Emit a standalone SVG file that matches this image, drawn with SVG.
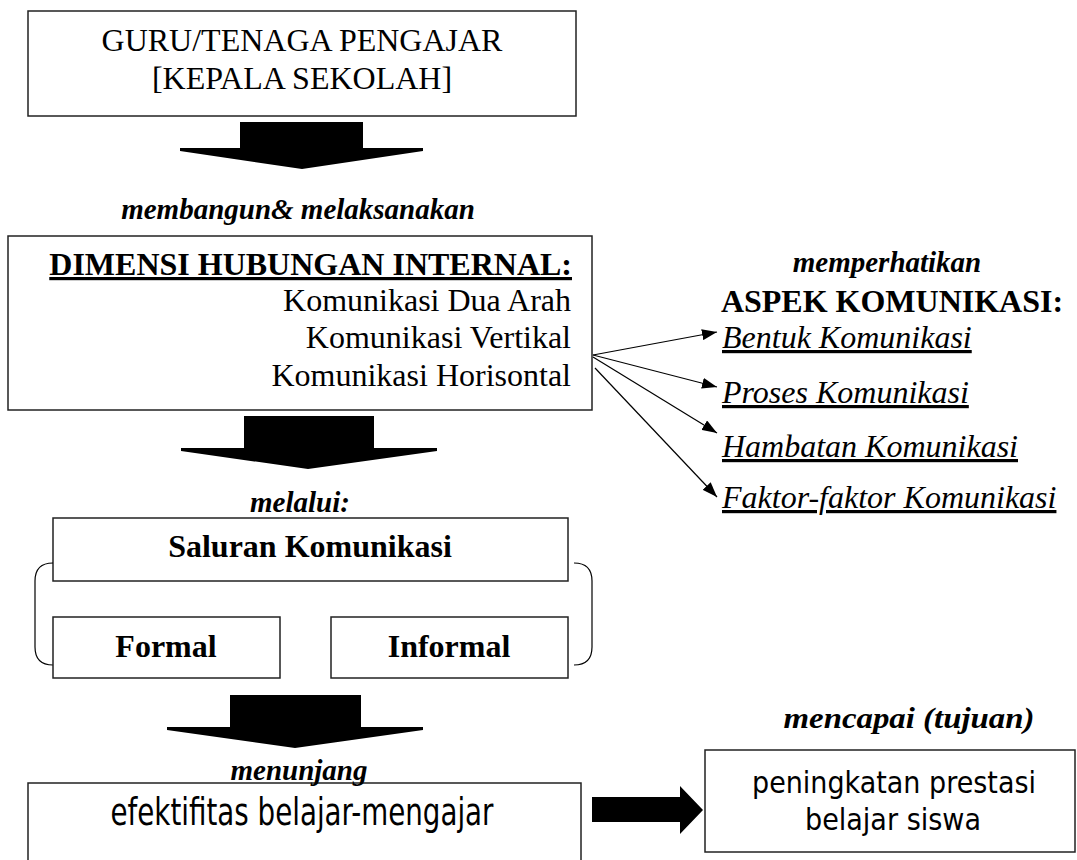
<svg xmlns="http://www.w3.org/2000/svg" width="1077" height="860" viewBox="0 0 1077 860">
<style>
.box{fill:#fff;stroke:#222;stroke-width:1.5}
.blk{fill:#000;stroke:none}
.serif{font-family:"Liberation Serif","Times New Roman",serif;fill:#000}
.sans{font-family:"DejaVu Sans","Liberation Sans",sans-serif;fill:#000}
.r32{font-size:32px}
.b32{font-size:32px;font-weight:bold}
.bi29{font-size:29px;font-weight:bold;font-style:italic}
.i32{font-size:32px;font-style:italic;text-decoration:underline}
.mid{text-anchor:middle}
.end{text-anchor:end}
.conn{stroke:#000;stroke-width:1.2;fill:none}
</style>
<defs>
<marker id="ah" viewBox="0 0 15 11" refX="15" refY="5.5" markerWidth="15" markerHeight="11" markerUnits="userSpaceOnUse" orient="auto">
<path d="M0,0 L15,5.5 L0,11 Z" fill="#000"/>
</marker>
</defs>
<rect x="0" y="0" width="1077" height="860" fill="#fff"/>

<g id="guru">
<rect class="box" x="28" y="11" width="548" height="105"/>
<text class="serif r32 mid" x="302" y="51">GURU/TENAGA PENGAJAR</text>
<text class="serif r32 mid" x="302" y="89">[KEPALA SEKOLAH]</text>
</g>

<g id="arrow1">
<polygon class="blk" points="240,122 363,122 363,148 423,148 423,151 302,169 180,151 180,148 240,148"/>
<text class="serif bi29 mid" x="298" y="219">membangun&amp; melaksanakan</text>
</g>

<g id="dimensi">
<rect class="box" x="8" y="236" width="584" height="174"/>
<text class="serif b32 end" x="572" y="275" text-decoration="underline">DIMENSI HUBUNGAN INTERNAL:</text>
<text class="serif r32 end" x="571" y="311">Komunikasi Dua Arah</text>
<text class="serif r32 end" x="571" y="348">Komunikasi Vertikal</text>
<text class="serif r32 end" x="571" y="386">Komunikasi Horisontal</text>
</g>

<g id="arrow2">
<polygon class="blk" points="244,416 374,416 374,448 437,448 437,451 308,469 181,451 181,448 244,448"/>
<text class="serif bi29 mid" x="300" y="512">melalui:</text>
</g>

<g id="aspek">
<text class="serif bi29 mid" x="887" y="272">memperhatikan</text>
<text class="serif b32 mid" x="892" y="312">ASPEK KOMUNIKASI:</text>
<text class="serif i32" x="722" y="348">Bentuk Komunikasi</text>
<text class="serif i32" x="722" y="403">Proses Komunikasi</text>
<text class="serif i32" x="722" y="457">Hambatan Komunikasi</text>
<text class="serif i32" x="722" y="508">Faktor-faktor Komunikasi</text>
</g>

<g id="saluran">
<rect class="box" x="53" y="518" width="515" height="63"/>
<text class="serif b32 mid" x="310" y="557">Saluran Komunikasi</text>
</g>
<g id="brackets">
<path class="conn" d="M53,563 Q35,563 35,581 L35,647 Q35,665 53,665"/>
<path class="conn" d="M574,563 Q592,563 592,581 L592,647 Q592,665 574,665"/>
</g>
<g id="formal">
<rect class="box" x="53" y="617" width="227" height="61"/>
<text class="serif b32 mid" x="166" y="657">Formal</text>
</g>
<g id="informal">
<rect class="box" x="331" y="617" width="237" height="61"/>
<text class="serif b32 mid" x="449" y="657">Informal</text>
</g>

<g id="arrow3">
<polygon class="blk" points="230,695 361,695 361,727 423,727 423,730 295,748 167,730 167,727 230,727"/>
</g>

<g id="efektifitas">
<rect class="box" x="28" y="783" width="553" height="100"/>
<text class="serif bi29 mid" x="299" y="780">menunjang</text>
<text class="sans mid" x="302" y="825" font-size="37" textLength="383" lengthAdjust="spacingAndGlyphs">efektifitas belajar-mengajar</text>
</g>

<g id="arrow4">
<polygon class="blk" points="592,797 680,797 680,786 703,810 680,834 680,822 592,822"/>
</g>

<g id="prestasi">
<text class="serif bi29 mid" x="909" y="728" textLength="251" lengthAdjust="spacingAndGlyphs">mencapai (tujuan)</text>
<rect class="box" x="705" y="750" width="370" height="102"/>
<text class="sans mid" x="894" y="793" font-size="31" textLength="284" lengthAdjust="spacingAndGlyphs">peningkatan prestasi</text>
<text class="sans mid" x="893" y="830" font-size="31" textLength="176" lengthAdjust="spacingAndGlyphs">belajar siswa</text>
</g>

<g id="connectors">
<line class="conn" x1="593" y1="355" x2="717" y2="332" marker-end="url(#ah)"/>
<line class="conn" x1="593" y1="355" x2="717" y2="387" marker-end="url(#ah)"/>
<line class="conn" x1="593" y1="357" x2="717" y2="433" marker-end="url(#ah)"/>
<line class="conn" x1="595" y1="368" x2="717" y2="497" marker-end="url(#ah)"/>
</g>
</svg>
